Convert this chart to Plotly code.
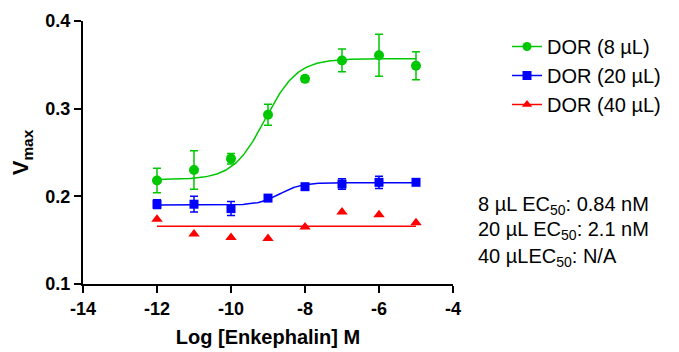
import numpy as np
import plotly.graph_objects as go

log_conc = [-12, -11, -10, -9, -8, -7, -6, -5]

v8 = [0.218, 0.230, 0.243, 0.293, 0.334, 0.355, 0.361, 0.349]
e8 = [0.014, 0.022, 0.006, 0.012, 0.003, 0.013, 0.024, 0.016]

v20 = [0.191, 0.191, 0.186, 0.198, 0.211, 0.214, 0.216, 0.216]
e20 = [0.005, 0.009, 0.008, 0.003, 0.003, 0.006, 0.007, 0.003]

v40 = [0.174, 0.157, 0.153, 0.152, 0.165, 0.182, 0.179, 0.170]

# fitted 4-parameter logistic parameters: bottom, top, logEC50, hill
fit8 = [0.219, 0.357, -9.076, 1.0]
fit20 = [0.190, 0.2155, -8.68, 1.5]
fit40_const = 0.166

x_ticks = [-14, -12, -10, -8, -6, -4]
x_tick_labels = ["-14", "-12", "-10", "-8", "-6", "-4"]
y_ticks = [0.1, 0.2, 0.3, 0.4]
y_tick_labels = ["0.1", "0.2", "0.3", "0.4"]

labels = ["DOR (8 µL)", "DOR (20 µL)", "DOR (40 µL)"]
colors = ["#00c800", "#0000ff", "#ff0000"]
ec50_lines = ["8 µL EC<sub>50</sub>: 0.84 nM",
              "20 µL EC<sub>50</sub>: 2.1 nM",
              "40 µLEC<sub>50</sub>: N/A"]

xs = np.linspace(log_conc[0], log_conc[-1], 200)


def four_pl(x, p):
    b, t, l, h = p
    return b + (t - b) / (1 + 10 ** ((l - x) * h))


fig = go.Figure()
font = "Liberation Sans, Arial, sans-serif"

fig.add_trace(go.Scatter(x=xs, y=four_pl(xs, fit8), mode="lines",
                         line=dict(color=colors[0], width=1.5), showlegend=False))
fig.add_trace(go.Scatter(x=xs, y=four_pl(xs, fit20), mode="lines",
                         line=dict(color=colors[1], width=1.5), showlegend=False))
fig.add_trace(go.Scatter(x=[log_conc[0], log_conc[-1]], y=[fit40_const, fit40_const], mode="lines",
                         line=dict(color=colors[2], width=1.5), showlegend=False))

fig.add_trace(go.Scatter(x=log_conc, y=v8, mode="markers",
                         marker=dict(symbol="circle", size=10, color=colors[0]),
                         error_y=dict(type="data", array=e8, color=colors[0], thickness=1.5, width=4),
                         showlegend=False))
fig.add_trace(go.Scatter(x=log_conc, y=v20, mode="markers",
                         marker=dict(symbol="square", size=9, color=colors[1]),
                         error_y=dict(type="data", array=e20, color=colors[1], thickness=1.5, width=4),
                         showlegend=False))
fig.add_trace(go.Scatter(x=log_conc, y=v40, mode="markers",
                         marker=dict(symbol="triangle-up", size=10, color=colors[2]),
                         showlegend=False))

for lab, col, sym in zip(labels, colors, ["circle", "square", "triangle-up"]):
    fig.add_trace(go.Scatter(x=[None], y=[None], mode="lines+markers", name=lab,
                             line=dict(color=col, width=1.5),
                             marker=dict(symbol=sym, size=9, color=col)))

# page has an 8px body margin: figure coordinates = window coordinates - 8
OFF = 8
W, H = 679 - OFF, 352 - OFF
L, R = 83 - OFF, 453 - OFF
T, B = 21 - OFF, 284 - OFF
pw, ph = R - L, B - T


def px_x(x):
    return (x - OFF - L) / pw


def px_y(y):
    return (B - (y - OFF)) / ph


for i, txt in enumerate(ec50_lines):
    fig.add_annotation(
        x=px_x(476), y=px_y(205 + 26 * i), xref="paper", yref="paper", showarrow=False,
        text=txt, align="left", xanchor="left", yanchor="middle",
        font=dict(family=font, size=20, color="black"),
    )

fig.update_layout(
    width=W, height=H,
    margin=dict(l=L, r=W - R, t=T, b=H - B, autoexpand=False),
    plot_bgcolor="white", paper_bgcolor="white",
    font=dict(family=font, color="black"),
    legend=dict(x=px_x(507), y=px_y(27), xanchor="left", yanchor="top",
                font=dict(family=font, size=20, color="black"),
                tracegroupgap=0, itemwidth=30,
                bgcolor="rgba(0,0,0,0)"),
    xaxis=dict(range=[-14, -4], tickvals=x_ticks, ticktext=x_tick_labels,
               showline=True, linecolor="black", linewidth=2,
               ticks="outside", ticklen=7, tickwidth=2, tickcolor="black",
               showgrid=False, zeroline=False,
               tickfont=dict(family=font, size=18, color="black", weight="bold"),
               title=dict(text="Log [Enkephalin] M",
                          font=dict(family=font, size=20, color="black", weight="bold"), standoff=12)),
    yaxis=dict(range=[0.1, 0.4], tickvals=y_ticks, ticktext=y_tick_labels,
               showline=True, linecolor="black", linewidth=2,
               ticks="outside", ticklen=7, tickwidth=2, tickcolor="black",
               showgrid=False, zeroline=False,
               tickfont=dict(family=font, size=18, color="black", weight="bold"),
               title=dict(text="V<sub>max</sub>",
                          font=dict(family=font, size=22, color="black", weight="bold"), standoff=12)),
)

fig.write_html("out.html")
